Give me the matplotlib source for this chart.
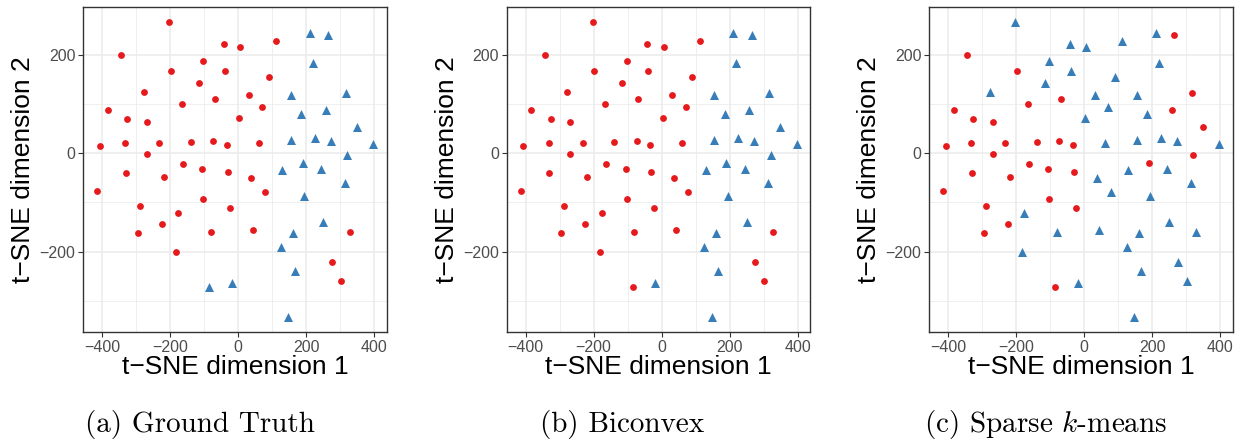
import matplotlib
matplotlib.use("Agg")
import matplotlib.pyplot as plt
import numpy as np

# t-SNE coordinates (same points in every panel)
tsne_x = [-202, -42, 6, 112, -344, -103, -198, -39, 91, -116,
          -278, -69, 32, -166, 71, -383, -326, -269, 3, -407,
          -332, -232, -139, -73, -34, 61, -269, -163, -106, -31,
          -330, -218, 38, -415, 79, -103, -288, -23, -176, -224,
          -296, -81, 43, 328, -182, 275, 302,
          210, 265, 219, 155, 316, 186, 257, 349, 155, 226,
          272, 397, 321, 191, 130, 245, 314, 194, 250, 160,
          125, 166, -85, -18, 148]
tsne_y = [267, 222, 216, 228, 200, 188, 167, 167, 155, 143,
          125, 110, 119, 100, 94, 88, 70, 64, 72, 15,
          21, 21, 23, 25, 17, 21, -1, -22, -32, -38,
          -40, -48, -50, -76, -79, -93, -107, -111, -121, -144,
          -162, -160, -156, -160, -201, -221, -260,
          245, 240, 184, 119, 123, 80, 88, 54, 26, 31,
          24, 18, -3, -20, -35, -32, -61, -88, -140, -163,
          -190, -240, -272, -265, -333]

# cluster labels: 1 = red circle, 2 = blue triangle
grupo_truth = [1, 1, 1, 1, 1, 1, 1, 1, 1, 1,
               1, 1, 1, 1, 1, 1, 1, 1, 1, 1,
               1, 1, 1, 1, 1, 1, 1, 1, 1, 1,
               1, 1, 1, 1, 1, 1, 1, 1, 1, 1,
               1, 1, 1, 1, 1, 1, 1,
               2, 2, 2, 2, 2, 2, 2, 2, 2, 2,
               2, 2, 2, 2, 2, 2, 2, 2, 2, 2,
               2, 2, 2, 2, 2]
grupo_biconvex = [1, 1, 1, 1, 1, 1, 1, 1, 1, 1,
                  1, 1, 1, 1, 1, 1, 1, 1, 1, 1,
                  1, 1, 1, 1, 1, 1, 1, 1, 1, 1,
                  1, 1, 1, 1, 1, 1, 1, 1, 1, 1,
                  1, 1, 1, 1, 1, 1, 1,
                  2, 2, 2, 2, 2, 2, 2, 2, 2, 2,
                  2, 2, 2, 2, 2, 2, 2, 2, 2, 2,
                  2, 2, 1, 2, 2]
grupo_sparse = [2, 2, 2, 2, 1, 2, 1, 2, 2, 2,
                2, 1, 2, 1, 2, 1, 1, 1, 2, 1,
                1, 1, 1, 1, 1, 2, 1, 1, 1, 1,
                1, 1, 2, 1, 2, 1, 1, 1, 2, 1,
                1, 2, 2, 2, 2, 2, 2,
                2, 1, 2, 2, 1, 2, 1, 1, 2, 2,
                2, 2, 1, 1, 2, 2, 2, 2, 2, 2,
                2, 2, 1, 2, 2]

legendas = ["(a) Ground Truth", "(b) Biconvex", "(c) Sparse $k$-means"]
x_ticks = [-400, -200, 0, 200, 400]
y_ticks = [-200, 0, 200]

plt.rcParams["font.family"] = ["Liberation Sans", "DejaVu Sans"]
plt.rcParams["mathtext.fontset"] = "cm"

W, H = 1243, 443
fig = plt.figure(figsize=(W / 100, H / 100), dpi=100)

lefts = [83.3, 506.7, 929.3]
centros_legenda = [199.5, 622, 1045.5]
x = np.array(tsne_x)
y = np.array(tsne_y)

for i, grupos in enumerate([grupo_truth, grupo_biconvex, grupo_sparse]):
    ax = fig.add_axes([lefts[i] / W, 1 - 332 / H, 303.6 / W, 325.3 / H])
    g = np.array(grupos)
    ax.scatter(x[g == 1], y[g == 1], s=24, marker="o", color="#E41A1C",
               linewidths=0, zorder=3)
    ax.scatter(x[g == 2], y[g == 2], s=42, marker="^", color="#377EB8",
               linewidths=0, zorder=3)
    ax.set_xlim(-455.6, 437.6)
    ax.set_ylim(-363.6, 297.6)
    ax.set_xticks(x_ticks)
    ax.set_yticks(y_ticks)
    ax.set_xticklabels([str(t).replace("-", "\u2212") for t in x_ticks])
    ax.set_yticklabels([str(t).replace("-", "\u2212") for t in y_ticks])
    ax.set_xticks([-300, -100, 100, 300], minor=True)
    ax.set_yticks([-300, -100, 100], minor=True)
    ax.grid(which="major", color="#EBEBEB", linewidth=1.1, zorder=0)
    ax.grid(which="minor", color="#EBEBEB", linewidth=0.55, zorder=0)
    ax.set_axisbelow(True)
    ax.tick_params(which="minor", length=0)
    ax.tick_params(which="major", length=3.6, width=0.8, color="#333333",
                   labelcolor="#4D4D4D", labelsize=11.5, pad=2)
    for sp in ax.spines.values():
        sp.set_color("#333333")
        sp.set_linewidth(1.0)
    ax.set_xlabel("t\u2212SNE dimension 1", fontsize=19, labelpad=0)
    ax.set_ylabel("t\u2212SNE dimension 2", fontsize=19, labelpad=3)
    fig.text(centros_legenda[i] / W, 1 - 432 / H, legendas[i],
             fontsize=21, family="cmr10", ha="center", va="baseline")

fig.savefig("out.png", dpi=100)
